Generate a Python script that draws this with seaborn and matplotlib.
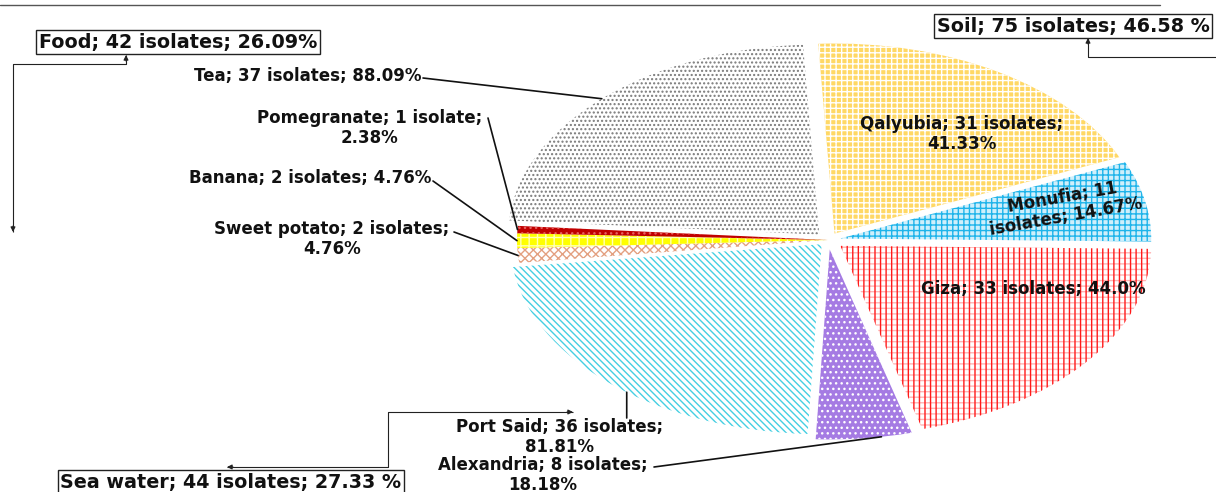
import numpy as np
import matplotlib
matplotlib.use("Agg")
import matplotlib.pyplot as plt
import seaborn as sns
from matplotlib.patches import Wedge

# ---- data -------------------------------------------------------------
# sub-sources, clockwise from twelve o'clock
sources = ["Qalyubia", "Monufia", "Giza", "Alexandria", "Port Said",
           "Sweet potato", "Banana", "Pomegranate", "Tea"]
isolates = [31, 11, 33, 8, 36, 2, 2, 1, 37]
within_group_pct = ["41.33%", "14.67%", "44.0%", "18.18%", "81.81%",
                    "4.76%", "4.76%", "2.38%", "88.09%"]

# main isolation sources
groups = ["Soil", "Sea water", "Food"]
group_isolates = [75, 44, 42]
group_pct = ["46.58 %", "27.33 %", "26.09%"]

# ---- styling ----------------------------------------------------------
sns.set_theme(style="white")
plt.rcParams["font.family"] = ["DejaVu Sans"]
plt.rcParams["hatch.linewidth"] = 1.0

face_colors = sns.color_palette(["#FFD865", "#CFEFFB", "#FFFFFF", "#A57BE3", "#FFFFFF",
                                 "#FFFFFF", "#FFFF00", "#C00000", "#FFFFFF"])
hatch_colors = ["#FFFFFF", "#1EB4EA", "#FFB4B4", "#FFFFFF", "#45CFE2",
                "#E3A080", "#FFFFB8", "#E66060", "#7A7A7A"]
hatches = ["+++", "+++", "---", "...", "\\\\\\\\\\", "xxxx", "++", "...", "...."]
explode = [0.04, 0.04, 0.05, 0.05, 0.03, 0.0, 0.0, 0.0, 0.04]

W, H = 1216, 492
CX, CY = 828, 240          # pie centre in pixels (from top-left)
SX, SY = 311, 190          # horizontal / vertical radius in pixels


def P(x, y):
    """pixel position (origin top-left) -> data coordinates"""
    return ((x - CX) / SX, (CY - y) / SY)


fig = plt.figure(figsize=(W / 100, H / 100), dpi=100)
ax = fig.add_axes([0, 0, 1, 1])

wedges, _ = ax.pie(isolates, explode=explode, startangle=93, counterclock=False,
                   colors=face_colors, radius=1.0, center=(0, 0),
                   wedgeprops=dict(linewidth=0))
for w, hc, h in zip(wedges, hatch_colors, hatches):
    w.set_edgecolor(hc)
    w.set_linewidth(0)
    w.set_hatch(h)

# Giza: red vertical grid lines over the pink horizontal ones
g = wedges[sources.index("Giza")]
overlay = Wedge(g.center, g.r, g.theta1, g.theta2, facecolor="none",
                edgecolor="#FF1A1A", linewidth=0, hatch="|||")
ax.add_patch(overlay)

ax.set_aspect("auto")
ax.set_xlim(P(0, 0)[0], P(W, 0)[0])
ax.set_ylim(P(0, H)[1], P(0, 0)[1])
ax.axis("off")

TXT = dict(fontweight="bold", color="#111111", fontsize=12)


def label_text(i, breaks):
    n = isolates[i]
    word = "isolates" if n != 1 else "isolate"
    if breaks == "after_count":
        return f"{sources[i]}; {n}\n{word}; {within_group_pct[i]}"
    if breaks == "after_word":
        return f"{sources[i]}; {n} {word};\n{within_group_pct[i]}"
    return f"{sources[i]}; {n} {word}; {within_group_pct[i]}"


def outer_point(w, along=0.5):
    a = np.deg2rad(w.theta1 + along * (w.theta2 - w.theta1))
    return (w.center[0] + w.r * np.cos(a), w.center[1] + w.r * np.sin(a))


# labels inside the soil wedges
i = sources.index("Qalyubia")
ax.text(*P(962, 134), label_text(i, "after_word"), ha="center", va="center",
        multialignment="center", linespacing=1.1, **TXT)
i = sources.index("Monufia")
ax.text(*P(1064, 207), label_text(i, "after_count"), ha="center", va="center",
        multialignment="center", linespacing=1.1, rotation=10,
        rotation_mode="anchor", **TXT)
i = sources.index("Giza")
ax.text(*P(1033, 289), label_text(i, None), ha="center", va="center", **TXT)

# labels with leader lines
LEAD = dict(arrowstyle="-", color="#111111", lw=1.2, shrinkA=0, shrinkB=0)
callouts = [
    # name, text position, ha, line break, leader start, point along the arc
    ("Tea", (421, 76), "right", None, (423, 78), 0.5),
    ("Pomegranate", (370, 128), "center", "after_word", (488, 118), 0.5),
    ("Banana", (431, 178), "right", None, (433, 181), 0.5),
    ("Sweet potato", (332, 239), "center", "after_word", (454, 232), 0.5),
    ("Alexandria", (543, 475), "center", "after_word", (654, 467), 0.68),
]
for name, pos, ha, br, start, along in callouts:
    i = sources.index(name)
    ax.text(*P(*pos), label_text(i, br), ha=ha, va="center",
            multialignment="center", linespacing=1.1, **TXT)
    ax.annotate("", xy=outer_point(wedges[i], along), xytext=P(*start),
                arrowprops=LEAD)

i = sources.index("Port Said")
ax.text(*P(560, 437), label_text(i, "after_word"), ha="center", va="center",
        multialignment="center", linespacing=1.1, **TXT)
tip = outer_point(wedges[i], 0.55)
ax.annotate("", xy=tip, xytext=(tip[0], P(0, 418)[1]), arrowprops=LEAD)

# boxed group labels
BOX = dict(boxstyle="square,pad=0.15", facecolor="white", edgecolor="#222222", lw=1.0)
group_pos = {"Soil": (1073, 26), "Sea water": (231, 482), "Food": (178, 42)}
for name, n, pct in zip(groups, group_isolates, group_pct):
    ax.text(*P(*group_pos[name]), f"{name}; {n} isolates; {pct}", ha="center",
            va="center", fontsize=13.8, fontweight="bold", color="#111111", bbox=BOX)

# elbow connectors of the group boxes
CON = dict(color="#222222", lw=0.8)
HEAD = dict(arrowstyle="-|>", color="#222222", lw=0.8, mutation_scale=7,
            shrinkA=0, shrinkB=0)


def elbow(points, heads):
    xs, ys = zip(*[P(*p) for p in points])
    ax.plot(xs, ys, solid_capstyle="butt", **CON)
    for tip_px, from_px in heads:
        ax.annotate("", xy=P(*tip_px), xytext=P(*from_px), arrowprops=HEAD)


elbow([(126, 55), (126, 64), (13, 64), (13, 232)],
      [((126, 55), (126, 61)), ((13, 232), (13, 226))])
elbow([(1088, 38), (1088, 57), (1216, 57)],
      [((1088, 38), (1088, 44))])
elbow([(227, 467), (388, 467), (388, 412), (573, 412)],
      [((227, 467), (233, 467)), ((573, 412), (567, 412))])

# thin rule along the top
xs, ys = zip(P(0, 5), P(1160, 5))
ax.plot(xs, ys, color="#555555", lw=1.0)

fig.savefig("out.png", dpi=100)
